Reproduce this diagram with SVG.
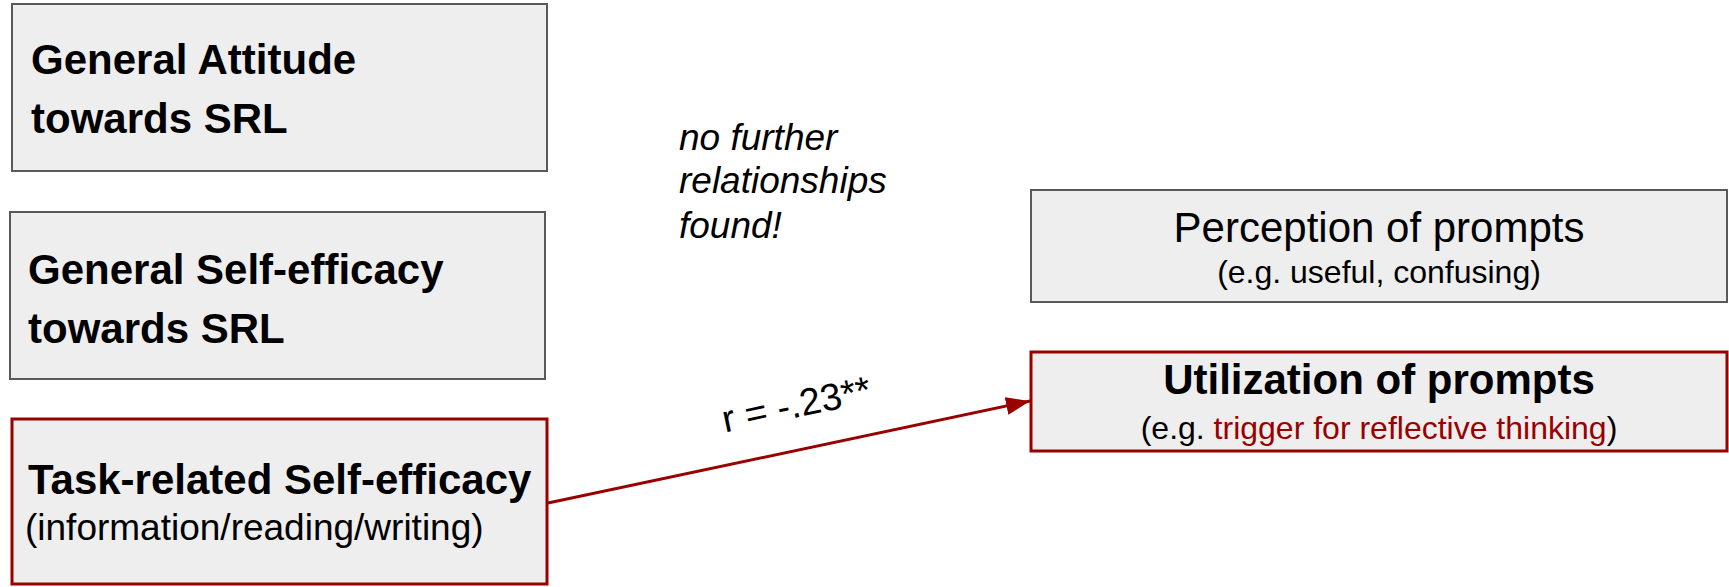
<svg xmlns="http://www.w3.org/2000/svg" width="1729" height="587" viewBox="0 0 1729 587">
  <defs>
    <style>
      .box { fill: #eeeeee; stroke: #595959; stroke-width: 2; }
      .box-hl { fill: #eeeeee; stroke: #990000; stroke-width: 3; }
      text { font-family: "Liberation Sans", Arial, sans-serif; fill: #000000; }
      .title { font-size: 42px; font-weight: bold; }
      .plain { font-size: 42px; }
      .sub { font-size: 32px; }
      .sub37 { font-size: 37px; }
      .note { font-size: 37px; font-style: italic; }
      .hl { fill: #990000; }
      .edge { stroke: #990000; stroke-width: 3; fill: none; }
    </style>
    <marker id="arrow" markerUnits="strokeWidth" markerWidth="8" markerHeight="6" refX="8" refY="3" orient="auto">
      <path d="M0,0 L8,3 L0,6 Z" fill="#990000"/>
    </marker>
  </defs>

  <rect width="1729" height="587" fill="#ffffff"/>

  <!-- predictor boxes -->
  <g id="general-attitude">
    <rect class="box" x="12" y="4" width="535" height="167"/>
    <text class="title" x="31" y="74">General Attitude</text>
    <text class="title" x="31" y="133">towards SRL</text>
  </g>

  <g id="general-self-efficacy">
    <rect class="box" x="10" y="212" width="535" height="167"/>
    <text class="title" x="28" y="284">General Self-efficacy</text>
    <text class="title" x="28" y="343">towards SRL</text>
  </g>

  <g id="task-self-efficacy">
    <rect class="box-hl" x="12" y="419" width="535" height="165"/>
    <text class="title" x="28" y="494">Task-related Self-efficacy</text>
    <text class="sub37" x="25" y="540">(information/reading/writing)</text>
  </g>

  <!-- outcome boxes -->
  <g id="perception">
    <rect class="box" x="1031" y="190" width="696" height="112"/>
    <text class="plain" x="1379" y="242" text-anchor="middle">Perception of prompts</text>
    <text class="sub" x="1379" y="283" text-anchor="middle">(e.g. useful, confusing)</text>
  </g>

  <g id="utilization">
    <rect class="box-hl" x="1031" y="352" width="696" height="99"/>
    <text class="title" x="1379" y="394" text-anchor="middle">Utilization of prompts</text>
    <text class="sub" x="1379" y="439" text-anchor="middle">(e.g. <tspan class="hl">trigger for reflective thinking</tspan>)</text>
  </g>

  <!-- free annotation -->
  <g id="note">
    <text class="note" x="679" y="150">no further</text>
    <text class="note" x="679" y="193">relationships</text>
    <text class="note" x="679" y="238">found!</text>
  </g>

  <!-- connectors -->
  <g id="connectors">
    <line class="edge" x1="548" y1="503" x2="1030" y2="401" marker-end="url(#arrow)"/>
    <text x="799" y="417" font-size="38" text-anchor="middle" transform="rotate(-11.9 799 417)">r = -.23**</text>
  </g>
</svg>
